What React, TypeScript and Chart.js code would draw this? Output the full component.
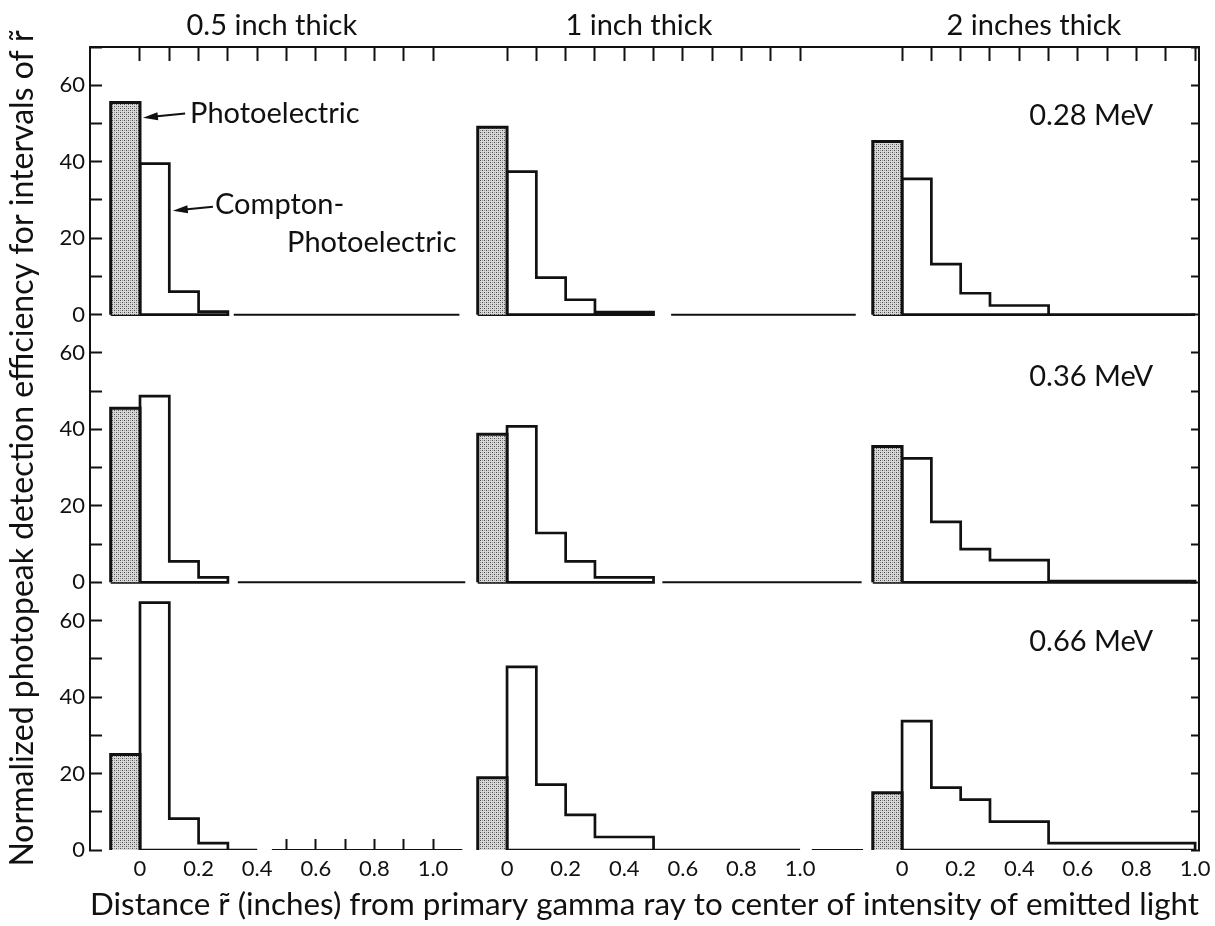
import { useEffect, useRef } from 'react';
import { Chart, registerables } from 'chart.js';

Chart.register(...registerables);

// ---------- categories / labels ----------
const columnTitles = ['0.5 inch thick', '1 inch thick', '2 inches thick'];
const energyLabels = ['0.28 MeV', '0.36 MeV', '0.66 MeV'];
const yTickLabels = [0, 20, 40, 60];
const xTickLabels = ['0', '0.2', '0.4', '0.6', '0.8', '1.0'];
const xTitle = 'Distance r\u0303 (inches) from primary gamma ray to center of intensity of emitted light';
const yTitle = 'Normalized photopeak detection efficiency for intervals of r\u0303';

// ---------- photoelectric bars (bin -0.1 .. 0), columns: 0.5, 1, 2 inch ----------
const photoBinEdges = [-0.1, 0];
const photo028 = [55.5, 49, 45.3];
const photo036 = [45.5, 38.7, 35.5];
const photo066 = [25, 18.9, 15];

// ---------- Compton-photoelectric histograms ----------
const edgesTo03 = [0, 0.1, 0.2, 0.3];
const edgesTo04 = [0, 0.1, 0.2, 0.3, 0.4];
const edgesTo05 = [0, 0.1, 0.2, 0.3, 0.5];
const edgesTo10 = [0, 0.1, 0.2, 0.3, 0.5, 1.0];

const compton028_05 = [39.5, 6, 0.8];
const compton028_1 = [37.4, 9.7, 3.9, 0.7];
const compton028_2 = [35.5, 13.2, 5.6, 2.4, 0];
const compton036_05 = [48.7, 5.5, 1.3];
const compton036_1 = [40.8, 12.9, 5.5, 1.3];
const compton036_2 = [32.4, 15.8, 8.7, 5.8, 0.3];
const compton066_05 = [64.7, 8.2, 1.8, 0];
const compton066_1 = [47.9, 17.1, 9.2, 3.4, 0];
const compton066_2 = [33.7, 16.3, 13.2, 7.4, 1.8];

// ---------- layout of the 3 x 3 panels on the shared axes ----------
const PANEL_OFFSET = [0, 1.2526, 2.6007]; // x offset of each column
const ROW_OFFSET = [140, 70, 0]; // y offset of each energy row
const ROW_SPAN = 70;
const X_MIN = -0.1706;
const X_MAX = 3.614;
const Y_MAX = 210;
// baseline continuation pieces [row, column, from, to] (local inches)
const BASELINE_PIECES: [number, number, number, number][] = [
  [0, 0, 0.32, 1.09],
  [0, 1, 0.56, 1.19],
  [1, 0, 0.334, 1.11],
  [1, 1, 0.53, 1.21],
  [2, 0, 0.45, 1.1],
  [2, 1, 1.04, 1.215],
];

const FONT = 'Lato, "Open Sans", sans-serif';
const INK = '#111111';

function makeStipple(): CanvasPattern | string {
  const c = document.createElement('canvas');
  c.width = 4;
  c.height = 4;
  const g = c.getContext('2d');
  if (!g) return '#bdbdbd';
  g.fillStyle = '#d8d8d8';
  g.fillRect(0, 0, 4, 4);
  g.fillStyle = '#4a4a4a';
  g.fillRect(0, 0, 1, 1);
  g.fillRect(2, 2, 1, 1);
  g.fillStyle = '#999999';
  g.fillRect(2, 0, 1, 1);
  g.fillRect(0, 2, 1, 1);
  return g.createPattern(c, 'repeat') || '#bdbdbd';
}

export default function App() {
  const ref = useRef<HTMLCanvasElement>(null);

  useEffect(() => {
    if (!ref.current) return;
    const stipple = makeStipple();

    const photoRows = [photo028, photo036, photo066];
    const comptonRows = [
      [compton028_05, compton028_1, compton028_2],
      [compton036_05, compton036_1, compton036_2],
      [compton066_05, compton066_1, compton066_2],
    ];
    const edgeRows = [
      [edgesTo03, edgesTo05, edgesTo10],
      [edgesTo03, edgesTo05, edgesTo10],
      [edgesTo04, edgesTo10, edgesTo10],
    ];

    const datasets: any[] = [];
    for (let r = 0; r < 3; r++) {
      const yo = ROW_OFFSET[r];
      for (let c = 0; c < 3; c++) {
        const xo = PANEL_OFFSET[c];
        const v = photoRows[r][c];
        const [a, b] = photoBinEdges;
        datasets.push({
          data: [
            { x: xo + a, y: yo },
            { x: xo + a, y: yo + v },
            { x: xo + b, y: yo + v },
            { x: xo + b, y: yo },
          ],
          borderColor: INK,
          borderWidth: 3,
          backgroundColor: stipple,
          fill: { value: yo },
          pointRadius: 0,
          tension: 0,
        });
        const edges = edgeRows[r][c];
        const vals = comptonRows[r][c];
        const pts: { x: number; y: number }[] = [{ x: xo + edges[0], y: yo }];
        vals.forEach((val, i) => {
          pts.push({ x: xo + edges[i], y: yo + val });
          pts.push({ x: xo + edges[i + 1], y: yo + val });
        });
        pts.push({ x: xo + edges[edges.length - 1], y: yo });
        pts.push({ x: xo + a, y: yo });
        datasets.push({
          data: pts,
          borderColor: INK,
          borderWidth: 2.7,
          fill: false,
          pointRadius: 0,
          tension: 0,
          borderJoinStyle: 'miter',
        });
      }
    }
    BASELINE_PIECES.forEach(([r, c, from, to]) => {
      datasets.push({
        data: [
          { x: PANEL_OFFSET[c] + from, y: ROW_OFFSET[r] },
          { x: PANEL_OFFSET[c] + to, y: ROW_OFFSET[r] },
        ],
        borderColor: INK,
        borderWidth: 2,
        fill: false,
        pointRadius: 0,
      });
    });

    // bottom axis ticks: labels per column + minor marks (listed right-to-left)
    const bottomTicks: { value: number; label: string; mark: boolean }[] = [];
    PANEL_OFFSET.forEach((xo, c) => {
      for (let k = 0; k <= 10; k++) {
        const local = k / 10;
        const labelled = k % 2 === 0;
        const mark = c === 0 && local >= 0.45;
        if (labelled || mark) {
          bottomTicks.push({ value: xo + local, label: labelled ? xTickLabels[k / 2] : '', mark });
        }
      }
    });
    bottomTicks.reverse();
    const topTicks: number[] = [];
    PANEL_OFFSET.forEach((xo) => {
      for (let k = 0; k <= 10; k++) topTicks.push(xo + k / 10);
    });
    const yTickValues: number[] = [];
    for (let v = 0; v <= Y_MAX; v += 10) yTickValues.push(v);
    const yLabel = (v: number) => {
      if (v >= Y_MAX) return '';
      const local = Math.round(v % ROW_SPAN);
      return yTickLabels.includes(local) ? String(local) : '';
    };

    const annotate = {
      id: 'annotate',
      afterDraw(chart: any) {
        const { ctx } = chart;
        const x = chart.scales.x;
        const y = chart.scales.y;
        const top = chart.chartArea.top;
        ctx.save();
        ctx.fillStyle = INK;
        ctx.strokeStyle = INK;
        ctx.textBaseline = 'middle';
        ctx.font = `29px ${FONT}`;
        ctx.textAlign = 'center';
        columnTitles.forEach((t, c) => ctx.fillText(t, x.getPixelForValue(PANEL_OFFSET[c] + 0.45), top - 21));
        ctx.textAlign = 'right';
        const energyY = [52, 53.7, 54.5];
        energyLabels.forEach((t, r) =>
          ctx.fillText(t, x.getPixelForValue(PANEL_OFFSET[2] + 0.857), y.getPixelForValue(ROW_OFFSET[r] + energyY[r]))
        );
        // annotations in the 0.28 MeV, 0.5 inch panel
        const yo = ROW_OFFSET[0];
        const px = (v: number) => x.getPixelForValue(v);
        const py = (v: number) => y.getPixelForValue(yo + v);
        ctx.textAlign = 'left';
        ctx.fillText('Photoelectric', px(0.171), py(52.6));
        ctx.fillText('Compton-', px(0.256), py(28.8));
        ctx.fillText('Photoelectric', px(0.502), py(18.8));
        const arrow = (x1: number, y1: number, x2: number, y2: number) => {
          const ang = Math.atan2(y2 - y1, x2 - x1);
          const L = 15;
          const W = 4;
          ctx.lineWidth = 2;
          ctx.beginPath();
          ctx.moveTo(x1, y1);
          ctx.lineTo(x2 - Math.cos(ang) * L * 0.8, y2 - Math.sin(ang) * L * 0.8);
          ctx.stroke();
          ctx.beginPath();
          ctx.moveTo(x2, y2);
          ctx.lineTo(x2 - Math.cos(ang) * L - Math.sin(ang) * W, y2 - Math.sin(ang) * L + Math.cos(ang) * W);
          ctx.lineTo(x2 - Math.cos(ang) * L + Math.sin(ang) * W, y2 - Math.sin(ang) * L - Math.cos(ang) * W);
          ctx.closePath();
          ctx.fill();
        };
        arrow(px(0.154), py(52.6), px(0.01), py(51.5));
        arrow(px(0.249), py(28.2), px(0.112), py(27.2));
        ctx.restore();
      },
    };

    const tickFont = { family: FONT, size: 22 };
    const chart = new Chart(ref.current, {
      type: 'line',
      data: { datasets },
      plugins: [annotate],
      options: {
        animation: false,
        responsive: false,
        events: [],
        layout: { padding: 0 },
        plugins: { legend: { display: false }, tooltip: { enabled: false } },
        scales: {
          x: {
            type: 'linear',
            position: 'bottom',
            min: X_MIN,
            max: X_MAX,
            afterBuildTicks: (s: any) => {
              s.ticks = bottomTicks.map((t) => ({ value: t.value }));
            },
            afterFit: (s: any) => {
              s.height = 76;
            },
            ticks: {
              autoSkip: false,
              maxRotation: 0,
              padding: 17,
              color: INK,
              font: tickFont,
              callback: (_v: any, i: number) => bottomTicks[i]?.label ?? '',
            },
            grid: {
              drawOnChartArea: false,
              tickLength: -11,
              tickWidth: 2,
              tickColor: (ctx: any) => (bottomTicks[ctx.index]?.mark ? INK : 'rgba(0,0,0,0)'),
            },
            border: { display: false },
            title: {
              display: true,
              text: xTitle,
              color: INK,
              font: { family: FONT, size: 31.5 },
              padding: { top: 0, bottom: 2 },
            },
          },
          xTop: {
            type: 'linear',
            position: 'top',
            min: X_MIN,
            max: X_MAX,
            afterBuildTicks: (s: any) => {
              s.ticks = topTicks.map((v) => ({ value: v }));
            },
            afterFit: (s: any) => {
              s.height = 47;
            },
            ticks: { display: false, autoSkip: false },
            grid: { drawOnChartArea: false, tickLength: -14, tickWidth: 2, tickColor: INK },
            border: { display: true, width: 2, color: INK },
          },
          y: {
            type: 'linear',
            position: 'left',
            min: 0,
            max: Y_MAX,
            afterBuildTicks: (s: any) => {
              s.ticks = yTickValues.map((v) => ({ value: v }));
            },
            afterFit: (s: any) => {
              s.width = 90;
            },
            ticks: {
              autoSkip: false,
              padding: 17,
              color: INK,
              font: tickFont,
              callback: (v: any) => yLabel(Number(v)),
            },
            grid: { drawOnChartArea: false, tickLength: -12, tickWidth: 2, tickColor: INK },
            border: { display: true, width: 2, color: INK },
            title: {
              display: true,
              text: yTitle,
              color: INK,
              font: { family: FONT, size: 32 },
              padding: { top: 3, bottom: 0 },
            },
          },
          yRight: {
            type: 'linear',
            position: 'right',
            min: 0,
            max: Y_MAX,
            afterBuildTicks: (s: any) => {
              s.ticks = yTickValues.map((v) => ({ value: v }));
            },
            afterFit: (s: any) => {
              s.width = 16;
            },
            ticks: { display: false, autoSkip: false },
            grid: { drawOnChartArea: false, tickLength: -8, tickWidth: 2, tickColor: INK },
            border: { display: true, width: 2, color: INK },
          },
        },
      } as any,
    });
    return () => chart.destroy();
  }, []);

  return (
    <div style={{ position: 'absolute', left: 0, top: 0, width: 1215, height: 926, background: '#fff' }}>
      <canvas ref={ref} width={1215} height={926} style={{ display: 'block' }} />
    </div>
  );
}
